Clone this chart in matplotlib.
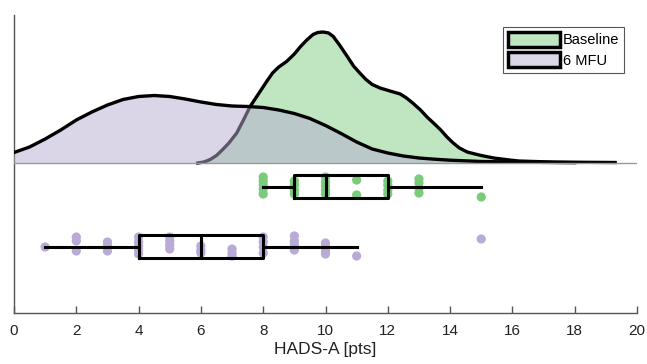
import numpy as np
import matplotlib.pyplot as plt
from matplotlib.patches import Patch

plt.rcParams['font.family'] = ['Liberation Sans', 'DejaVu Sans']

# density curves (arbitrary height units)
base_kx = [5.9, 6.1, 6.3, 6.5, 6.7, 6.9, 7.15, 7.35, 7.58, 7.9, 8.1, 8.3, 8.5, 8.75,
           9.0, 9.2, 9.4, 9.6, 9.75, 9.92, 10.1, 10.25, 10.45, 10.7, 10.9, 11.1,
           11.3, 11.5, 11.75, 12.07, 12.4, 12.6, 12.8, 13.05, 13.26, 13.5, 13.7,
           13.9, 14.1, 14.3, 14.55, 14.8, 15.0, 15.4, 15.9, 16.2, 16.8, 17.3, 18.3, 19.3]
base_kd = [0, 1, 3.5, 7.5, 13.5, 20, 30, 42, 56.5, 71.5, 81, 90, 96, 101.5,
           109, 116.5, 123, 128.5, 130.5, 131, 130, 126.5, 118, 106.5, 97, 90,
           83.5, 78.5, 75, 72, 69, 65, 60, 53, 46, 39, 33,
           26, 20, 15, 11, 9, 7.5, 5, 3, 2, 1.4, 1, 0.7, 0.5]
mfu_kx = [-0.5, 0, 0.5, 1, 1.5, 2, 2.5, 3, 3.5, 4, 4.5, 5, 5.5, 6, 6.5, 7, 7.5, 8,
          8.5, 9, 9.5, 10, 10.5, 11, 11.5, 12, 12.5, 13, 13.5, 14, 15, 16, 17, 18]
mfu_kd = [6, 10.5, 16, 24, 33, 43, 51, 58, 63.5, 66.5, 67.5, 66.5, 64, 61, 58.5, 57, 56.5,
          55.5, 53, 49.5, 44.5, 37.5, 29.5, 21, 14, 10, 7, 5, 3.8, 2.8, 1.5, 1, 0.6, 0.3]

# individual scores with their jittered row positions
base_x = [8]*5 + [9]*4 + [10]*5 + [11]*2 + [12]*4 + [13]*4 + [15]
base_y = [-14, -18, -22, -26, -31, -18, -22, -27, -31, -14, -19, -23, -27, -31,
          -17, -32, -18, -22, -27, -31, -16, -20, -25, -30, -34]
mfu_x = [1] + [2]*3 + [3]*3 + [4]*5 + [5]*4 + [6]*3 + [7]*3 + [8]*4 + [9]*4 + [10]*4 + [11] + [15]
mfu_y = [-84, -74, -78, -88, -79, -83, -88, -74, -79, -83, -87, -91, -74, -78, -82, -86,
         -83, -87, -90, -86, -90, -93, -74, -79, -84, -90, -73, -78, -82, -87,
         -80, -84, -88, -91, -93, -76]

# box statistics
base_box = dict(whislo=8, q1=9, med=10, q3=12, whishi=15)
mfu_box = dict(whislo=1, q1=4, med=6, q3=8, whishi=11)

green_fill = (191/255, 229/255, 193/255)
purple_fill = (185/255, 173/255, 211/255)
green_dot = '#7acb7a'
purple_dot = '#b9aad7'

fig = plt.figure(figsize=(6.47, 3.64), dpi=100)
ax = fig.add_axes([14/647, 51/364, 623/647, 298/364])

ax.fill_between(base_kx, base_kd, 0, color=green_fill, lw=0, zorder=2)
ax.plot(base_kx, base_kd, color='k', lw=2.4, zorder=2.1, solid_joinstyle='round')
ax.fill_between(mfu_kx, mfu_kd, 0, color=purple_fill, alpha=0.5, lw=0, zorder=3)
ax.plot(mfu_kx, mfu_kd, color='k', lw=2.4, zorder=3.1, solid_joinstyle='round')
ax.axhline(0, color='#999999', lw=1, zorder=4)

ax.scatter(base_x, base_y, s=44, color=green_dot, edgecolors='none', zorder=5)
ax.scatter(mfu_x, mfu_y, s=44, color=purple_dot, edgecolors='none', zorder=5)

stats = []
for st, lab in [(base_box, 'Baseline'), (mfu_box, '6 MFU')]:
    d = dict(st)
    d['label'] = lab
    d['fliers'] = []
    stats.append(d)
bp = ax.bxp(stats, positions=[-23.5, -83.5], widths=23, vert=False,
            showcaps=False, showfliers=False, manage_ticks=False, patch_artist=False,
            boxprops=dict(color='k', lw=2.2),
            whiskerprops=dict(color='k', lw=2.2),
            medianprops=dict(color='k', lw=2.2))
for k in bp:
    for a in bp[k]:
        a.set_zorder(6)

ax.set_xlim(0, 20)
ax.set_ylim(-150, 148)
ax.set_xticks(np.arange(0, 21, 2))
ax.set_yticks([])
ax.tick_params(axis='x', direction='in', length=5, width=1, color='#555555',
               labelsize=11, labelcolor='#222222', pad=8)
for s in ['top', 'right']:
    ax.spines[s].set_visible(False)
for s in ['left', 'bottom']:
    ax.spines[s].set_color('#555555')
    ax.spines[s].set_linewidth(1)
ax.set_xlabel('HADS-A [pts]', fontsize=12.5, color='#222222', labelpad=3)

handles = [Patch(facecolor=green_fill, edgecolor='k', lw=2.5, label='Baseline'),
           Patch(facecolor=(220/255, 214/255, 233/255), edgecolor='k', lw=2.5, label='6 MFU')]
leg = ax.legend(handles=handles, loc='upper right', bbox_to_anchor=(610/623, 286/298),
                fontsize=10.5, fancybox=False, edgecolor='#555555', framealpha=1,
                handlelength=3.6, handleheight=1.15, handletextpad=0.15,
                borderpad=0.35, labelspacing=0.35, borderaxespad=0)
leg.get_frame().set_linewidth(0.8)

fig.savefig('out.png', dpi=100)
